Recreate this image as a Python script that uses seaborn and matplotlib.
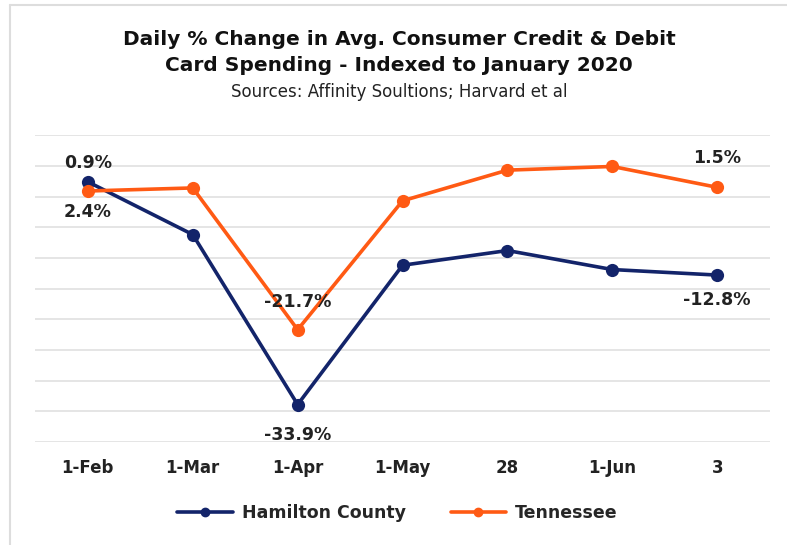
import pandas as pd
import matplotlib.pyplot as plt
import seaborn as sns
from matplotlib.lines import Line2D

# datos
fechas = ['1-Feb', '1-Mar', '1-Apr', '1-May', '28', '1-Jun', '3']
hamilton = [2.4, -6.2, -33.9, -11.2, -8.8, -11.9, -12.8]
tennessee = [0.9, 1.4, -21.7, -0.7, 4.3, 4.9, 1.5]
series = ['Hamilton County', 'Tennessee']
colores = ['#13246a', '#ff5a14']

df = pd.DataFrame({
    'fecha': fechas * 2,
    'valor': hamilton + tennessee,
    'serie': [series[0]] * len(fechas) + [series[1]] * len(fechas),
})

sns.set_style('white')
plt.rcParams['font.family'] = ['DejaVu Sans']

fig = plt.figure(figsize=(7.87, 5.45), dpi=100)
ax = fig.add_axes([0.045, 0.189, 0.933, 0.563])

sns.lineplot(data=df, x='fecha', y='valor', hue='serie', palette=colores,
             marker='o', markersize=9.5, markeredgewidth=0, linewidth=2.6,
             sort=False, legend=False, ax=ax)

ax.set_xlim(-0.5, len(fechas) - 0.5)
ax.set_ylim(-40, 10)
ax.set_yticks(range(-40, 11, 5))
ax.set_yticklabels([])
ax.yaxis.grid(True, color='#e3e3e3', linewidth=1.3)
ax.tick_params(axis='x', length=0, pad=12, labelsize=12)
for t in ax.get_xticklabels():
    t.set_fontweight('bold')
    t.set_color('#222222')
ax.tick_params(axis='y', length=0)
ax.set_xlabel('')
ax.set_ylabel('')
sns.despine(ax=ax, left=True, bottom=True, top=True, right=True)

# etiquetas de datos
etiquetas = [
    (0, tennessee[0], '0.9%', 20),
    (0, hamilton[0], '2.4%', -22),
    (2, tennessee[2], '-21.7%', 20),
    (2, hamilton[2], '-33.9%', -22),
    (6, tennessee[6], '1.5%', 21),
    (6, hamilton[6], '-12.8%', -18),
]
for x, y, txt, dy in etiquetas:
    ax.annotate(txt, (x, y), xytext=(0, dy), textcoords='offset points',
                ha='center', va='center', fontsize=12.5, fontweight='bold',
                color='#222222')

fig.text(0.507, 0.903, 'Daily % Change in Avg. Consumer Credit & Debit\nCard Spending - Indexed to January 2020',
         ha='center', va='center', fontsize=14.5, fontweight='bold',
         color='#111111', linespacing=1.45)
fig.text(0.507, 0.832, 'Sources: Affinity Soultions; Harvard et al',
         ha='center', va='center', fontsize=12, color='#222222')

handles = [Line2D([0], [0], color=c, lw=2.6, marker='o', markersize=6)
           for c in colores]
leg = fig.legend(handles, series, loc='center', bbox_to_anchor=(0.505, 0.058),
                 ncol=2, frameon=False, handlelength=3.2, handletextpad=0.5,
                 columnspacing=2.6, prop={'weight': 'bold', 'size': 12.5})

# marco gris claro
fig.add_artist(Line2D([10 / 787, 1], [1 - 5 / 545, 1 - 5 / 545],
                      transform=fig.transFigure, color='#dddddd', lw=1.5))
fig.add_artist(Line2D([10 / 787, 10 / 787], [0, 1 - 5 / 545],
                      transform=fig.transFigure, color='#dddddd', lw=1.5))

fig.savefig('out.png', dpi=100)
